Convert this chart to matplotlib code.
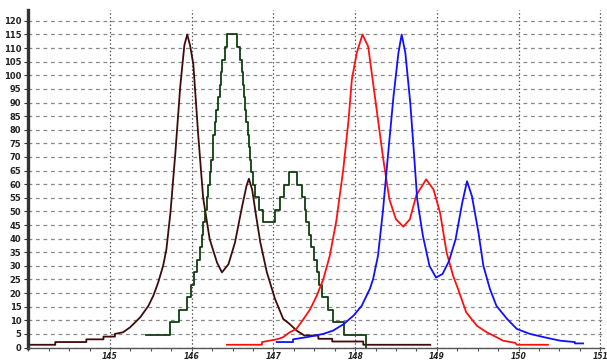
import numpy as np
import matplotlib
matplotlib.use("Agg")
import matplotlib.pyplot as plt
from matplotlib.ticker import MultipleLocator

# dark brown doublet (line)
brown_x = [144.0, 144.33, 144.33, 144.71, 144.71, 144.92, 144.92, 145.06, 145.06, 145.16,
           145.245, 145.37, 145.47, 145.53, 145.59, 145.65, 145.69, 145.74, 145.80, 145.86,
           145.91, 145.945, 145.98, 146.02, 146.08, 146.14, 146.22, 146.31, 146.37, 146.45,
           146.53, 146.61, 146.67, 146.70, 146.74, 146.79, 146.84, 146.92, 147.02, 147.12,
           147.20, 147.285, 147.38, 147.55, 147.55, 147.72, 147.72, 148.10, 148.10, 148.92]
brown_y = [1, 1, 2, 2, 3, 3, 4, 4, 5, 5.6,
           7.4, 11.1, 15.3, 19, 23.9, 30, 36, 49.6, 71.5, 96,
           111, 115, 111, 104, 78, 55, 39.8, 31.2, 27.6, 30.6,
           38.6, 50.8, 59.3, 62, 58, 48, 38.6, 27.6, 17.8, 10.5,
           8.6, 6.2, 4.4, 4.4, 3.2, 3.2, 2.2, 2.2, 1, 1]

# dark green doublet (stepped): start of each step and its level
green_x = [145.44, 145.74, 145.85, 145.94, 145.99, 146.03, 146.06, 146.10, 146.12, 146.14,
           146.165, 146.19, 146.205, 146.22, 146.24, 146.255, 146.265, 146.28, 146.30, 146.32,
           146.345, 146.36, 146.375, 146.405, 146.43, 146.555, 146.585, 146.61, 146.625, 146.64,
           146.655, 146.67, 146.69, 146.70, 146.715, 146.73, 146.755, 146.78, 146.82, 146.87,
           147.025, 147.075, 147.135, 147.195, 147.285, 147.345, 147.39, 147.405, 147.44, 147.465,
           147.50, 147.53, 147.555, 147.59, 147.665, 147.725, 147.865, 148.13]
green_y = [4.6, 9.2, 13.8, 18.4, 23.0, 27.6, 32.2, 36.8, 41.4, 46.0,
           50.6, 55.2, 59.8, 64.4, 69.0, 73.6, 78.2, 82.8, 87.4, 92.0,
           96.6, 101.2, 105.8, 110.4, 115.0, 110.4, 105.8, 101.2, 96.6, 92.0,
           87.4, 82.8, 78.2, 73.6, 69.0, 64.4, 59.8, 55.2, 50.6, 46.0,
           50.6, 55.2, 59.8, 64.4, 59.8, 55.2, 50.6, 46.0, 41.4, 36.8,
           32.2, 27.6, 23.0, 18.4, 13.8, 9.2, 4.6, 0]

# red doublet
red_x = [146.43, 146.86, 146.86, 147.04, 147.12, 147.20, 147.28, 147.37, 147.45, 147.53,
         147.61, 147.69, 147.77, 147.855, 147.92, 147.96, 148.02, 148.09, 148.16, 148.22,
         148.28, 148.345, 148.42, 148.50, 148.59, 148.67, 148.75, 148.87, 148.96, 149.04,
         149.12, 149.20, 149.26, 149.36, 149.49, 149.61, 149.73, 149.81, 149.96, 149.98, 150.36]
red_y = [1, 1, 2, 3, 3.8, 5.6, 6.8, 10.5, 14.1, 19,
         25, 33.7, 46.5, 65.4, 83.7, 98.4, 108.2, 115, 110.6, 97.2,
         83.7, 69.1, 54.4, 47.1, 44.4, 47.1, 56, 61.8, 58, 49.5,
         34.9, 26.3, 21.5, 12.9, 8.0, 5.6, 3.8, 2.5, 1.7, 1, 1]

# blue doublet
blue_x = [147.04, 147.24, 147.24, 147.41, 147.61, 147.73, 147.86, 147.98, 148.08, 148.18,
          148.22, 148.28, 148.34, 148.405, 148.47, 148.53, 148.57, 148.615, 148.675, 148.72,
          148.76, 148.83, 148.91, 148.99, 149.07, 149.15, 149.23, 149.31, 149.37, 149.43,
          149.51, 149.57, 149.65, 149.73, 149.86, 149.98, 150.14, 150.31, 150.51, 150.69, 150.69, 150.79]
blue_y = [2, 2, 3, 3.8, 5, 6.2, 8.6, 11.7, 15.3, 21.5,
          25.1, 33.7, 50, 71.5, 92.3, 108.2, 115, 108.2, 89.9, 71.5,
          54.4, 41, 30, 25.7, 27, 31.8, 39.8, 53, 61.1, 55.6,
          42.2, 30, 21.5, 15.3, 10.5, 6.8, 5, 3.8, 2.5, 2, 1.5, 1.5]

fig = plt.figure(figsize=(6.07, 3.6), dpi=100)
ax = fig.add_axes([28.3 / 607, 12.5 / 360, 576 / 607, 337.5 / 360])

ax.plot(brown_x, brown_y, color='#3f0c0c', lw=1.3)
ax.step(green_x, green_y, where='post', color='#0f3f0f', lw=1.3)
ax.plot(red_x, red_y, color='#ff1010', lw=1.3)
ax.plot(blue_x, blue_y, color='#1010ff', lw=1.3)

ax.set_xlim(144, 151.05)
ax.set_ylim(0, 124)
ax.xaxis.set_major_locator(MultipleLocator(1))
ax.xaxis.set_minor_locator(MultipleLocator(0.25))
ax.yaxis.set_major_locator(MultipleLocator(5))

ax.xaxis.grid(True, which='major', linestyle=(0, (1.2, 1.8)), color='#555555', lw=0.9)
ax.yaxis.grid(True, which='major', linestyle=(0, (3, 3)), color='#888888', lw=0.9)
ax.set_axisbelow(True)

for s in ['top', 'right']:
    ax.spines[s].set_visible(False)
ax.spines['left'].set_linewidth(2.4)
ax.spines['left'].set_color('#333333')
ax.spines['bottom'].set_linewidth(1.0)
ax.spines['bottom'].set_color('#555555')

ax.tick_params(axis='y', length=3, width=0.8, color='#333333', pad=2, labelsize=6)
ax.tick_params(axis='x', which='both', length=2.5, width=0.8, color='#555555', pad=0.5, labelsize=5.5)
ax.set_xticklabels([('' if v == 144 else str(int(v))) for v in ax.get_xticks()])
for lab in ax.get_yticklabels():
    lab.set_fontweight('bold')
    lab.set_color('#222222')
for lab in ax.get_xticklabels():
    lab.set_fontweight('bold')
    lab.set_fontstyle('italic')
    lab.set_color('#222222')

fig.savefig('out.png', dpi=100)
